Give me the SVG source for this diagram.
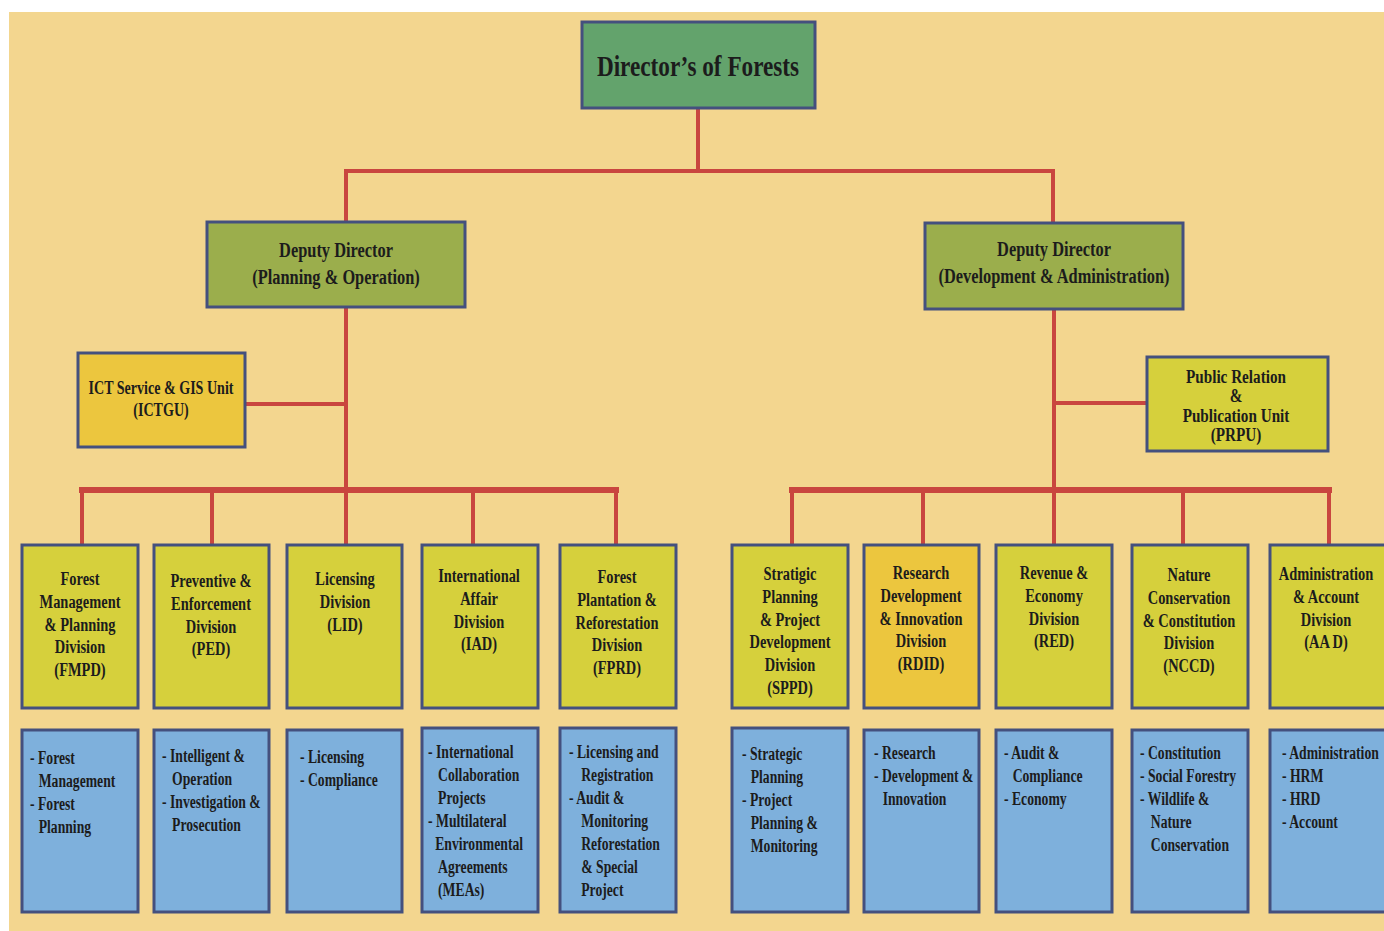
<svg xmlns="http://www.w3.org/2000/svg" width="1384" height="931" viewBox="0 0 1384 931">
<style>
.bx{stroke:#44507e;stroke-width:3}
.dir{fill:#63a36c}
.dep{fill:#9bae4c}
.yl{fill:#d6d03c}
.or{fill:#ecc63e}
.bl{fill:#7eb0dc}
.t{font-family:"Liberation Serif","Times New Roman",serif;font-weight:bold;fill:#1c1c1c}
.c{text-anchor:middle;font-size:19px}
.l{font-size:19px}
.ln{stroke:#c9463f;fill:none;stroke-linecap:square}
</style>
<rect x="0" y="0" width="1384" height="931" fill="#ffffff"/>
<rect x="9" y="12" width="1375" height="919" fill="#f3d68f"/>

<g id="connectors">
<path class="ln" stroke-width="4" d="M698 108 V171 M346 171 H1053 M346 171 V222 M1053 171 V223"/>
<path class="ln" stroke-width="4" d="M346 307 V490 M245 404 H346"/>
<path class="ln" stroke-width="4" d="M1054 309 V490 M1054 403 H1147"/>
<path class="ln" stroke-width="6" d="M82 490 H616 M792 490 H1329"/>
<path class="ln" stroke-width="4" d="M82 490 V545 M212 490 V545 M346 490 V545 M473 490 V545 M616 490 V545"/>
<path class="ln" stroke-width="4" d="M792 490 V545 M923 490 V545 M1054 490 V545 M1183 490 V545 M1329 490 V545"/>
</g>

<g id="director">
<rect class="bx dir" x="582" y="22" width="233" height="86"/>
<text class="t" text-anchor="middle" font-size="29" transform="translate(698,76) scale(0.8 1)">Director’s of Forests</text>
</g>

<g id="deputy-po">
<rect class="bx dep" x="207" y="222" width="258" height="85"/>
<text class="t" text-anchor="middle" font-size="20" transform="translate(336,257) scale(0.82 1)"><tspan x="0">Deputy Director</tspan><tspan x="0" dy="27">(Planning &amp; Operation)</tspan></text>
</g>

<g id="deputy-da">
<rect class="bx dep" x="925" y="223" width="258" height="86"/>
<text class="t" text-anchor="middle" font-size="20" transform="translate(1054,256) scale(0.82 1)"><tspan x="0">Deputy Director</tspan><tspan x="0" dy="27">(Development &amp; Administration)</tspan></text>
</g>

<g id="ictgu">
<rect class="bx or" x="78" y="353" width="167" height="94"/>
<text class="t c" transform="translate(161,394) scale(0.74 1)"><tspan x="0">ICT Service &amp; GIS Unit</tspan><tspan x="0" dy="22">(ICTGU)</tspan></text>
</g>

<g id="prpu">
<rect class="bx yl" x="1147" y="357" width="181" height="94"/>
<text class="t c" font-size="18" transform="translate(1236,383) scale(0.8 1)"><tspan x="0">Public Relation</tspan><tspan x="0" dy="19.5">&amp;</tspan><tspan x="0" dy="19.5">Publication Unit</tspan><tspan x="0" dy="19.5">(PRPU)</tspan></text>
</g>

<g id="fmpd">
<rect class="bx yl" x="22" y="545" width="116" height="163"/>
<text class="t c" transform="translate(80,585) scale(0.76 1)"><tspan x="0">Forest</tspan><tspan x="0" dy="22.8">Management</tspan><tspan x="0" dy="22.8">&amp; Planning</tspan><tspan x="0" dy="22.8">Division</tspan><tspan x="0" dy="22.8">(FMPD)</tspan></text>
<rect class="bx bl" x="22" y="730" width="116" height="182"/>
<text class="t l" transform="translate(30,764) scale(0.72 1)"><tspan x="0">- Forest</tspan><tspan x="12" dy="23">Management</tspan><tspan x="0" dy="23">- Forest</tspan><tspan x="12" dy="23">Planning</tspan></text>
</g>

<g id="ped">
<rect class="bx yl" x="154" y="545" width="115" height="163"/>
<text class="t c" transform="translate(211,587) scale(0.76 1)"><tspan x="0">Preventive &amp;</tspan><tspan x="0" dy="22.8">Enforcement</tspan><tspan x="0" dy="22.8">Division</tspan><tspan x="0" dy="22.8">(PED)</tspan></text>
<rect class="bx bl" x="154" y="730" width="115" height="182"/>
<text class="t l" transform="translate(162,762) scale(0.72 1)"><tspan x="0">- Intelligent &amp;</tspan><tspan x="14" dy="23">Operation</tspan><tspan x="0" dy="23">- Investigation &amp;</tspan><tspan x="14" dy="23">Prosecution</tspan></text>
</g>

<g id="lid">
<rect class="bx yl" x="287" y="545" width="115" height="163"/>
<text class="t c" transform="translate(345,585) scale(0.76 1)"><tspan x="0">Licensing</tspan><tspan x="0" dy="22.8">Division</tspan><tspan x="0" dy="22.8">(LID)</tspan></text>
<rect class="bx bl" x="287" y="730" width="115" height="182"/>
<text class="t l" transform="translate(300,763) scale(0.72 1)"><tspan x="0">- Licensing</tspan><tspan x="0" dy="23">- Compliance</tspan></text>
</g>

<g id="iad">
<rect class="bx yl" x="422" y="545" width="116" height="163"/>
<text class="t c" transform="translate(479,582) scale(0.76 1)"><tspan x="0">International</tspan><tspan x="0" dy="22.8">Affair</tspan><tspan x="0" dy="22.8">Division</tspan><tspan x="0" dy="22.8">(IAD)</tspan></text>
<rect class="bx bl" x="422" y="728" width="116" height="184"/>
<text class="t l" transform="translate(428,758) scale(0.72 1)"><tspan x="0">- International</tspan><tspan x="14" dy="23">Collaboration</tspan><tspan x="14" dy="23">Projects</tspan><tspan x="0" dy="23">- Multilateral</tspan><tspan x="10" dy="23">Environmental</tspan><tspan x="14" dy="23">Agreements</tspan><tspan x="14" dy="23">(MEAs)</tspan></text>
</g>

<g id="fprd">
<rect class="bx yl" x="560" y="545" width="116" height="163"/>
<text class="t c" transform="translate(617,583) scale(0.76 1)"><tspan x="0">Forest</tspan><tspan x="0" dy="22.8">Plantation &amp;</tspan><tspan x="0" dy="22.8">Reforestation</tspan><tspan x="0" dy="22.8">Division</tspan><tspan x="0" dy="22.8">(FPRD)</tspan></text>
<rect class="bx bl" x="560" y="728" width="116" height="184"/>
<text class="t l" transform="translate(569,758) scale(0.72 1)"><tspan x="0">- Licensing and</tspan><tspan x="17" dy="23">Registration</tspan><tspan x="0" dy="23">-  Audit &amp;</tspan><tspan x="17" dy="23">Monitoring</tspan><tspan x="17" dy="23">Reforestation</tspan><tspan x="17" dy="23">&amp; Special</tspan><tspan x="17" dy="23">Project</tspan></text>
</g>

<g id="sppd">
<rect class="bx yl" x="732" y="545" width="116" height="163"/>
<text class="t c" transform="translate(790,580) scale(0.76 1)"><tspan x="0">Stratigic</tspan><tspan x="0" dy="22.8">Planning</tspan><tspan x="0" dy="22.8">&amp; Project</tspan><tspan x="0" dy="22.8">Development</tspan><tspan x="0" dy="22.8">Division</tspan><tspan x="0" dy="22.8">(SPPD)</tspan></text>
<rect class="bx bl" x="732" y="728" width="116" height="184"/>
<text class="t l" transform="translate(742,760) scale(0.72 1)"><tspan x="0">- Strategic</tspan><tspan x="12" dy="23">Planning</tspan><tspan x="0" dy="23">- Project</tspan><tspan x="12" dy="23">Planning &amp;</tspan><tspan x="12" dy="23">Monitoring</tspan></text>
</g>

<g id="rdid">
<rect class="bx or" x="864" y="545" width="115" height="163"/>
<text class="t c" transform="translate(921,579) scale(0.76 1)"><tspan x="0">Research</tspan><tspan x="0" dy="22.8">Development</tspan><tspan x="0" dy="22.8">&amp; Innovation</tspan><tspan x="0" dy="22.8">Division</tspan><tspan x="0" dy="22.8">(RDID)</tspan></text>
<rect class="bx bl" x="864" y="730" width="115" height="182"/>
<text class="t l" transform="translate(874,759) scale(0.72 1)"><tspan x="0">- Research</tspan><tspan x="0" dy="23">- Development &amp;</tspan><tspan x="12" dy="23">Innovation</tspan></text>
</g>

<g id="red">
<rect class="bx yl" x="996" y="545" width="116" height="163"/>
<text class="t c" transform="translate(1054,579) scale(0.76 1)"><tspan x="0">Revenue &amp;</tspan><tspan x="0" dy="22.8">Economy</tspan><tspan x="0" dy="22.8">Division</tspan><tspan x="0" dy="22.8">(RED)</tspan></text>
<rect class="bx bl" x="996" y="730" width="116" height="182"/>
<text class="t l" transform="translate(1004,759) scale(0.72 1)"><tspan x="0">- Audit &amp;</tspan><tspan x="12" dy="23">Compliance</tspan><tspan x="0" dy="23">- Economy</tspan></text>
</g>

<g id="nccd">
<rect class="bx yl" x="1132" y="545" width="116" height="163"/>
<text class="t c" transform="translate(1189,581) scale(0.76 1)"><tspan x="0">Nature</tspan><tspan x="0" dy="22.8">Conservation</tspan><tspan x="0" dy="22.8">&amp; Constitution</tspan><tspan x="0" dy="22.8">Division</tspan><tspan x="0" dy="22.8">(NCCD)</tspan></text>
<rect class="bx bl" x="1132" y="730" width="116" height="182"/>
<text class="t l" transform="translate(1140,759) scale(0.72 1)"><tspan x="0">- Constitution</tspan><tspan x="0" dy="23">- Social Forestry</tspan><tspan x="0" dy="23">- Wildlife &amp;</tspan><tspan x="15" dy="23">Nature</tspan><tspan x="15" dy="23">Conservation</tspan></text>
</g>

<g id="aad">
<rect class="bx yl" x="1270" y="545" width="120" height="163"/>
<text class="t c" transform="translate(1326,580) scale(0.76 1)"><tspan x="0">Administration</tspan><tspan x="0" dy="22.8">&amp; Account</tspan><tspan x="0" dy="22.8">Division</tspan><tspan x="0" dy="22.8">(AA D)</tspan></text>
<rect class="bx bl" x="1270" y="730" width="120" height="182"/>
<text class="t l" transform="translate(1282,759) scale(0.72 1)"><tspan x="0">- Administration</tspan><tspan x="0" dy="23">- HRM</tspan><tspan x="0" dy="23">- HRD</tspan><tspan x="0" dy="23">- Account</tspan></text>
</g>
</svg>
